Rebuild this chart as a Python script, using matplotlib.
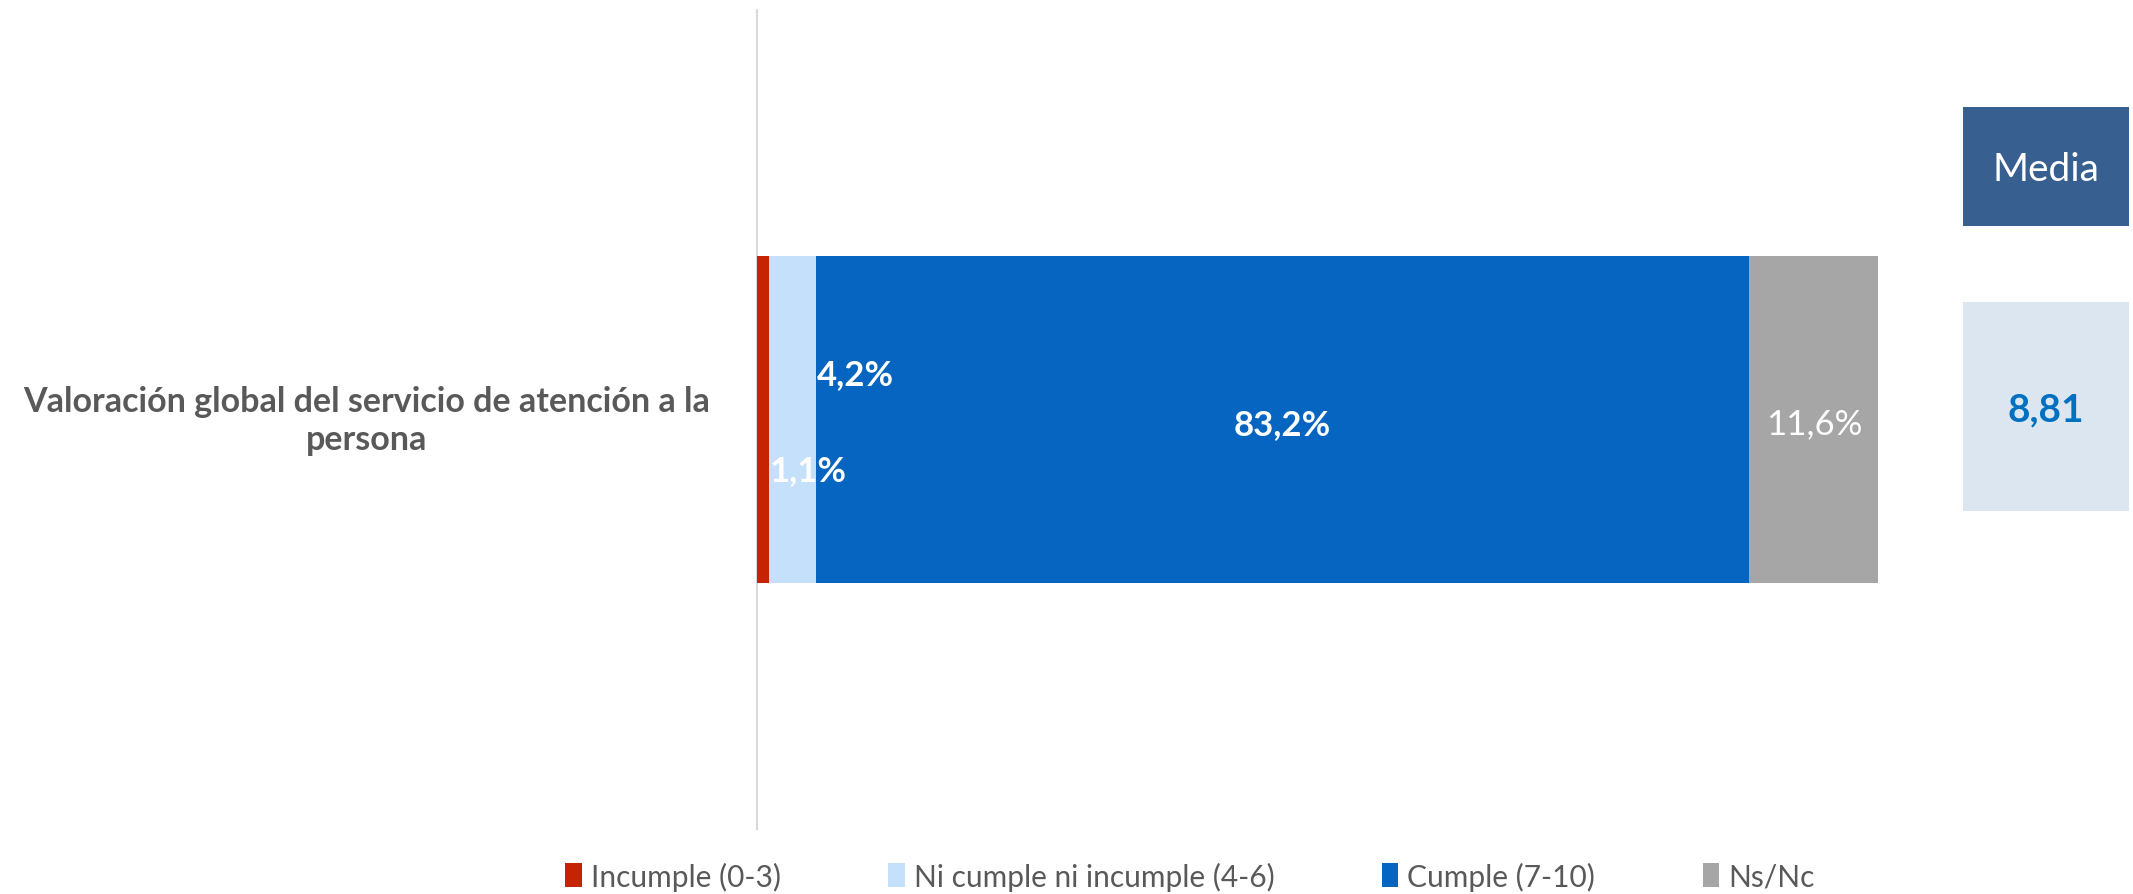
import matplotlib.pyplot as plt
import numpy as np
from matplotlib.patches import Rectangle, Patch

plt.rcParams['font.family'] = ['Lato', 'DejaVu Sans']

# data
category_lines = ['Valoración global del servicio de atención a la', 'persona']
series_names = ['Incumple (0-3)', 'Ni cumple ni incumple (4-6)', 'Cumple (7-10)', 'Ns/Nc']
values = [1.1, 4.2, 83.2, 11.6]
media_title = 'Media'
media_value = 8.81

colors = ['#C52400', '#C5E0FB', '#0565C0', '#A6A6A6']
gray_text = '#595959'

fig = plt.figure(figsize=(21.33, 8.95), dpi=100)
W, H = 2133, 895

# main bar axes
ax = fig.add_axes([757 / W, 1 - 830 / H, (1878 - 757) / W, (830 - 11) / H])
lefts = np.cumsum([0] + values[:-1])
for name, v, l, c in zip(series_names, values, lefts, colors):
    ax.barh(0, v, left=l, height=0.4, color=c, label=name)

ax.set_xlim(0, 100)
ax.set_ylim(-0.5, 0.5)
ax.set_xticks([])
ax.set_yticks([])
for s in ['top', 'right', 'bottom']:
    ax.spines[s].set_visible(False)
ax.spines['left'].set_color('#D9D9D9')
ax.spines['left'].set_linewidth(1.5)
ax.spines['left'].set_zorder(0)

def fmt(v):
    return f'{v:.1f}%'.replace('.', ',')

# labels for the two small segments sit just right of their segment
ax.text(lefts[0] + values[0], -0.062, fmt(values[0]), ha='left', va='center',
        color='white', fontsize=25, fontweight='bold')
ax.text(lefts[1] + values[1], 0.056, fmt(values[1]), ha='left', va='center',
        color='white', fontsize=25, fontweight='bold')
ax.text(lefts[2] + values[2] / 2, -0.005, fmt(values[2]), ha='center', va='center',
        color='white', fontsize=25, fontweight='bold')
ax.text(lefts[3] + values[3] / 2, -0.005, fmt(values[3]), ha='center', va='center',
        color='white', fontsize=25)

# category label
fig.text(367 / W, 1 - 421 / H, '\n'.join(category_lines), ha='center', va='center',
         fontsize=24.5, fontweight='bold', color=gray_text, linespacing=1.25)

# media panel
fig.patches.append(Rectangle((1963 / W, 1 - 227 / H), (2129 - 1963) / W, (227 - 108) / H,
                             transform=fig.transFigure, facecolor='#375F8F', edgecolor='none'))
fig.patches.append(Rectangle((1963 / W, 1 - 512 / H), (2129 - 1963) / W, (512 - 303) / H,
                             transform=fig.transFigure, facecolor='#DCE6F1', edgecolor='none'))
fig.text(2046 / W, 1 - 170 / H, media_title, ha='center', va='center', color='white', fontsize=28)
fig.text(2046 / W, 1 - 410 / H, f'{media_value:.2f}'.replace('.', ','), ha='center', va='center',
         color='#0070C0', fontsize=28, fontweight='bold')

# legend
handles = [Patch(facecolor=c, edgecolor='none') for c in colors]
leg = fig.legend(handles, series_names, loc='center', bbox_to_anchor=(1190 / W, 1 - 877 / H),
                 ncol=4, frameon=False, fontsize=21.5, handlelength=0.55, handleheight=0.85,
                 handletextpad=0.3, columnspacing=3.6)
for t in leg.get_texts():
    t.set_color(gray_text)

fig.savefig('out.png', dpi=100, facecolor='white')
